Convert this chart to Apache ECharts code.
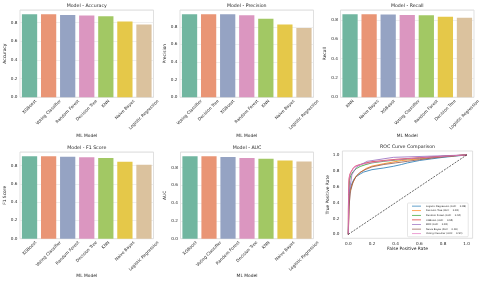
<!DOCTYPE html>
<html><head><meta charset="utf-8">
<script src="https://cdn.jsdelivr.net/npm/echarts@6/dist/echarts.min.js"></script>
<style>html,body{margin:0;padding:0;background:#fff}#c{width:480px;height:287px}</style>
</head><body><div id="c"></div>
<script>
// ---------- data ----------
const accuracyModels = ['XGBoost','Voting Classifier','Random Forest','Decision Tree','KNN','Naive Bayes','Logistic Regression'];
const accuracyValues = [0.892, 0.890, 0.884, 0.878, 0.870, 0.813, 0.780];

const precisionModels = ['Voting Classifier','Decision Tree','XGBoost','Random Forest','KNN','Naive Bayes','Logistic Regression'];
const precisionValues = [0.943, 0.942, 0.941, 0.930, 0.891, 0.826, 0.785];

const recallModels = ['KNN','Naive Bayes','XGBoost','Voting Classifier','Random Forest','Decision Tree','Logistic Regression'];
const recallValues = [0.861, 0.860, 0.857, 0.853, 0.850, 0.835, 0.825];

const f1Models = ['XGBoost','Voting Classifier','Random Forest','Decision Tree','KNN','Naive Bayes','Logistic Regression'];
const f1Values = [0.902, 0.900, 0.895, 0.889, 0.882, 0.840, 0.809];

const aucModels = ['XGBoost','Voting Classifier','Random Forest','Decision Tree','KNN','Naive Bayes','Logistic Regression'];
const aucValues = [0.927, 0.926, 0.917, 0.905, 0.898, 0.879, 0.868];

const rocNames = ['Logistic Regression (AUC = 0.89)','Decision Tree (AUC = 0.92)','Random Forest (AUC = 0.94)','XGBoost (AUC = 0.95)','KNN (AUC = 0.92)','Naive Bayes (AUC = 0.90)','Voting Classifier (AUC = 0.94)'];
const rocLR = [[0,0],[0.003,0.30],[0.01,0.54],[0.03,0.64],[0.05,0.70],[0.07,0.73],[0.10,0.76],[0.13,0.785],[0.20,0.815],[0.30,0.836],[0.38,0.857],[0.45,0.88],[0.50,0.90],[0.60,0.93],[0.70,0.95],[0.80,0.97],[0.90,0.985],[1,1]];
const rocDT = [[0,0],[0.01,0.52],[0.03,0.62],[0.06,0.72],[0.10,0.78],[0.15,0.83],[0.20,0.86],[0.30,0.89],[0.45,0.93],[0.60,0.95],[0.80,0.98],[1,1]];
const rocRF = [[0,0],[0.003,0.45],[0.01,0.68],[0.02,0.74],[0.04,0.79],[0.07,0.83],[0.10,0.855],[0.15,0.88],[0.20,0.90],[0.30,0.92],[0.40,0.935],[0.50,0.95],[0.60,0.96],[0.70,0.972],[0.80,0.983],[0.90,0.992],[1,1]];
const rocXGB = [[0,0],[0,0.30],[0.005,0.67],[0.01,0.74],[0.02,0.78],[0.04,0.83],[0.06,0.86],[0.10,0.88],[0.15,0.90],[0.20,0.915],[0.30,0.93],[0.40,0.945],[0.50,0.955],[0.60,0.965],[0.70,0.975],[0.80,0.985],[0.90,0.993],[1,1]];
const rocKNN = [[0,0],[0.008,0.53],[0.03,0.75],[0.07,0.85],[0.16,0.92],[0.38,0.97],[1,1]];
const rocNB = [[0,0],[0.005,0.35],[0.02,0.55],[0.04,0.66],[0.07,0.74],[0.10,0.78],[0.15,0.82],[0.20,0.85],[0.30,0.88],[0.40,0.90],[0.50,0.92],[0.60,0.94],[0.70,0.96],[0.80,0.975],[0.90,0.99],[1,1]];
const rocVoting = [[0,0],[0.003,0.50],[0.006,0.70],[0.015,0.76],[0.03,0.80],[0.05,0.85],[0.08,0.87],[0.12,0.885],[0.20,0.905],[0.30,0.925],[0.40,0.94],[0.50,0.952],[0.60,0.962],[0.70,0.972],[0.80,0.982],[0.90,0.992],[1,1]];
const rocDiagonal = [[0,0],[1,1]];
const rocTicks = [0, 0.2, 0.4, 0.6, 0.8, 1.0];

// ---------- style ----------
const FONT = 'DejaVu Sans';
const TICK_FS = 4.2, NAME_FS = 4.4, TITLE_FS = 4.7;
const INK = '#262626';
const setColors = ['#71b6a0','#e99575','#95a3c3','#db96c0','#a2c864','#e5c849','#dbc29e'];
const rocColors = ['#1f77b4','#ff7f0e','#2ca02c','#d62728','#9467bd','#8c564b','#e377c2'];

const mctx = document.createElement('canvas').getContext('2d');
// centre each 45°-rotated label under its tick (like matplotlib's ha='center')
function labelItems(cats){
  mctx.font = TICK_FS + 'px "' + FONT + '"';
  const h = TICK_FS;
  return cats.map(c => {
    const w = mctx.measureText(c).width;
    return {value: c, textStyle: {align:'center', verticalAlign:'top',
      padding: [Math.max(0, 0.25 * (w - h)), 0.5 * (w + h), 0, 0]}};
  });
}

const panels = [
  {title:'Model - Accuracy', yName:'Accuracy', cats:accuracyModels, vals:accuracyValues, left:20, top:10, width:133.5, height:87.3, nameGap:37},
  {title:'Model - Precision', yName:'Precision', cats:precisionModels, vals:precisionValues, left:180, top:10, width:133.5, height:87.3, nameGap:37},
  {title:'Model - Recall', yName:'Recall', cats:recallModels, vals:recallValues, left:340.5, top:10, width:133.5, height:87.3, nameGap:37},
  {title:'Model - F1 Score', yName:'F1 Score', cats:f1Models, vals:f1Values, left:20, top:152, width:133.5, height:86.7, nameGap:35.5},
  {title:'Model - AUC', yName:'AUC', cats:aucModels, vals:aucValues, left:180.5, top:152, width:133, height:86.7, nameGap:35.5}
];

const grids = [], xAxes = [], yAxes = [], series = [], titles = [];
const gridBase = {show:true, borderColor:'#d2d2d2', borderWidth:0.7, backgroundColor:'#fff', containLabel:false, outerBoundsMode:'none'};

panels.forEach((p, i) => {
  grids.push(Object.assign({}, gridBase, {left:p.left, top:p.top, width:p.width, height:p.height}));
  titles.push({text:p.title, left:p.left + p.width/2, top:p.top - 6.8, textAlign:'center', padding:0,
    textStyle:{fontSize:TITLE_FS, fontWeight:'normal', color:INK, fontFamily:FONT}});
  xAxes.push({type:'category', gridIndex:i, data:labelItems(p.cats),
    name:'ML Model', nameLocation:'middle', nameGap:p.nameGap, nameMoveOverlap:false,
    nameTextStyle:{fontSize:NAME_FS, color:INK, fontFamily:FONT},
    axisLine:{show:false}, axisTick:{show:false},
    axisLabel:{interval:0, rotate:45, margin:1.8, fontSize:TICK_FS, color:INK, fontFamily:FONT, hideOverlap:false},
    splitLine:{show:false}});
  yAxes.push({type:'value', gridIndex:i, min:0, max:v => v.max * 1.05, interval:0.2,
    name:p.yName, nameLocation:'middle', nameGap:13.5, nameMoveOverlap:false,
    nameTextStyle:{fontSize:NAME_FS, color:INK, fontFamily:FONT},
    axisLine:{show:false}, axisTick:{show:false},
    axisLabel:{fontSize:TICK_FS, color:INK, margin:2.6, fontFamily:FONT, showMaxLabel:false, formatter:v => v.toFixed(1)},
    splitLine:{show:true, lineStyle:{color:'#e4e4e4', width:0.6}}});
  series.push({type:'bar', xAxisIndex:i, yAxisIndex:i, barCategoryGap:'20%',
    data:p.vals.map((v, k) => ({value:v, itemStyle:{color:setColors[k]}})), silent:true});
});

// ROC panel
const rocIdx = panels.length;
const rocGrid = {left:342.4, top:151, width:130.2, height:87.3};
grids.push(Object.assign({}, gridBase, rocGrid));
titles.push({text:'ROC Curve Comparison', left:rocGrid.left + rocGrid.width/2, top:144, textAlign:'center', padding:0,
  textStyle:{fontSize:TITLE_FS, fontWeight:'normal', color:INK, fontFamily:FONT}});
xAxes.push({type:'value', gridIndex:rocIdx, min:-0.05, max:1.05,
  name:'False Positive Rate', nameLocation:'middle', nameGap:8.3, nameMoveOverlap:false,
  nameTextStyle:{fontSize:NAME_FS, color:INK, fontFamily:FONT},
  axisLine:{show:false}, axisTick:{show:false},
  axisLabel:{customValues:rocTicks, fontSize:TICK_FS, color:INK, margin:3.4, fontFamily:FONT, formatter:v => v.toFixed(1)},
  splitLine:{show:false}});
yAxes.push({type:'value', gridIndex:rocIdx, min:-0.05, max:1.05,
  name:'True Positive Rate', nameLocation:'middle', nameGap:12.8, nameMoveOverlap:false,
  nameTextStyle:{fontSize:NAME_FS, color:INK, fontFamily:FONT},
  axisLine:{show:false}, axisTick:{show:false},
  axisLabel:{customValues:rocTicks, fontSize:TICK_FS, color:INK, margin:3, fontFamily:FONT, formatter:v => v.toFixed(1)},
  splitLine:{show:false}});

const rocData = [rocLR, rocDT, rocRF, rocXGB, rocKNN, rocNB, rocVoting];
rocData.forEach((d, k) => {
  series.push({type:'line', name:rocNames[k], xAxisIndex:rocIdx, yAxisIndex:rocIdx, data:d,
    symbol:'none', showSymbol:false, silent:true,
    lineStyle:{color:rocColors[k], width:0.8}, itemStyle:{color:rocColors[k]}});
});
series.push({type:'line', name:'diag', xAxisIndex:rocIdx, yAxisIndex:rocIdx, data:rocDiagonal,
  symbol:'none', showSymbol:false, silent:true, lineStyle:{color:'#000', width:0.6, type:[2,1.2]}});

const option = {
  animation:false,
  backgroundColor:'#fff',
  textStyle:{fontFamily:FONT},
  title:titles,
  grid:grids,
  xAxis:xAxes,
  yAxis:yAxes,
  legend:{data:rocNames, orient:'vertical', left:407.5, top:203, padding:[1.6,2,1.6,4.5],
    icon:'rect', itemWidth:9, itemHeight:0.7, itemGap:1.6, selectedMode:false,
    borderColor:'#cccccc', borderWidth:0.5, borderRadius:1, backgroundColor:'rgba(255,255,255,0.85)',
    textStyle:{fontSize:2.45, color:INK, fontFamily:FONT, lineHeight:3}},
  series:series
};

const chart = echarts.init(document.getElementById('c'), null, {renderer:'canvas'});
chart.setOption(option);
</script>
</body></html>
